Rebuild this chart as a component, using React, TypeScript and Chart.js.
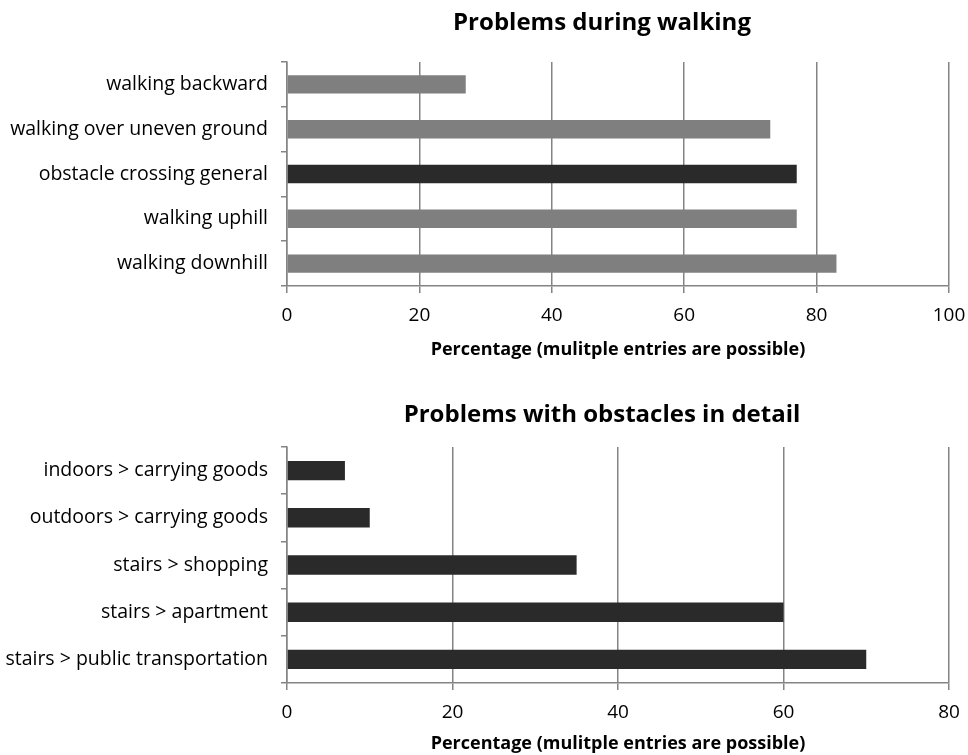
import React, { useEffect, useRef } from "react";
import { Chart, registerables } from "chart.js";

Chart.register(...registerables);

const walkingCategories = [
  "walking backward",
  "walking over uneven ground",
  "obstacle crossing general",
  "walking uphill",
  "walking downhill",
];
const walkingValues = [27, 73, 77, 77, 83];
const walkingColors = ["#7f7f7f", "#7f7f7f", "#2a2a2a", "#7f7f7f", "#7f7f7f"];

const obstacleCategories = [
  "indoors > carrying goods",
  "outdoors > carrying goods",
  "stairs > shopping",
  "stairs > apartment",
  "stairs > public transportation",
];
const obstacleValues = [7, 10, 35, 60, 70];
const obstacleColors = ["#2a2a2a", "#2a2a2a", "#2a2a2a", "#2a2a2a", "#2a2a2a"];

const titleTop = "Problems during walking";
const titleBottom = "Problems with obstacles in detail";
const axisTitle = "Percentage (mulitple entries are possible)";

const FONT = "'Open Sans', 'Liberation Sans', sans-serif";
const GRID = "#848484";

function makeConfig(
  labels: string[],
  values: number[],
  colors: string[],
  max: number,
  title: string,
  padTop: number,
  xAxisHeight: number,
  titleY: number,
  axisTitlePadBottom: number
): any {
  const titlePlugin = {
    id: "customTitle",
    afterDraw(chart: any) {
      const ctx = chart.ctx;
      ctx.save();
      ctx.font = `bold 24px ${FONT}`;
      ctx.fillStyle = "#000";
      ctx.textAlign = "center";
      ctx.textBaseline = "middle";
      ctx.fillText(title, 602, titleY);
      ctx.restore();
    },
  };
  return {
    type: "bar",
    data: {
      labels,
      datasets: [
        {
          data: values,
          backgroundColor: colors,
          borderWidth: 0,
          barPercentage: 0.41,
          categoryPercentage: 1,
        },
      ],
    },
    plugins: [titlePlugin],
    options: {
      indexAxis: "y",
      responsive: false,
      animation: false,
      layout: { padding: { top: padTop, right: 19, left: 0, bottom: 0 } },
      plugins: {
        legend: { display: false },
        title: { display: false },
        tooltip: { enabled: false },
      },
      scales: {
        x: {
          min: 0,
          max,
          ticks: {
            stepSize: 20,
            color: "#000",
            font: { family: FONT, size: 19 },
            padding: 11,
          },
          grid: {
            color: GRID,
            lineWidth: 1.5,
            drawTicks: true,
            tickLength: 7,
          },
          border: { color: GRID, width: 1.5 },
          title: {
            display: true,
            text: axisTitle,
            color: "#000",
            font: { family: FONT, size: 18, weight: "bold" },
            padding: { top: 0, bottom: axisTitlePadBottom },
          },
          afterFit(scale: any) {
            scale.height = xAxisHeight;
            scale.paddingRight = 0;
            scale.paddingLeft = 0;
          },
        },
        y: {
          ticks: {
            color: "#000",
            font: { family: FONT, size: 19.5 },
            padding: 13,
          },
          grid: {
            drawOnChartArea: false,
            drawTicks: true,
            tickLength: 6,
            lineWidth: 1.5,
            color: GRID,
            offset: true,
          },
          border: { color: GRID, width: 1.5 },
          afterFit(scale: any) {
            scale.width = 287;
            scale.paddingTop = 0;
            scale.paddingBottom = 0;
          },
        },
      },
    },
  };
}

export default function App() {
  const topRef = useRef<HTMLCanvasElement>(null);
  const botRef = useRef<HTMLCanvasElement>(null);

  useEffect(() => {
    document.body.style.margin = "0";
    const c1 = new Chart(
      topRef.current as HTMLCanvasElement,
      makeConfig(walkingCategories, walkingValues, walkingColors, 100, titleTop, 62, 89, 23, 14)
    );
    const c2 = new Chart(
      botRef.current as HTMLCanvasElement,
      makeConfig(obstacleCategories, obstacleValues, obstacleColors, 80, titleBottom, 72, 72, 40, 0)
    );
    return () => {
      c1.destroy();
      c2.destroy();
    };
  }, []);

  return (
    <div style={{ position: "relative", width: 968, height: 755, background: "#fff" }}>
      <canvas
        ref={topRef}
        width={968}
        height={375}
        style={{ position: "absolute", left: 0, top: 0, width: 968, height: 375 }}
      />
      <canvas
        ref={botRef}
        width={968}
        height={380}
        style={{ position: "absolute", left: 0, top: 375, width: 968, height: 380 }}
      />
    </div>
  );
}
